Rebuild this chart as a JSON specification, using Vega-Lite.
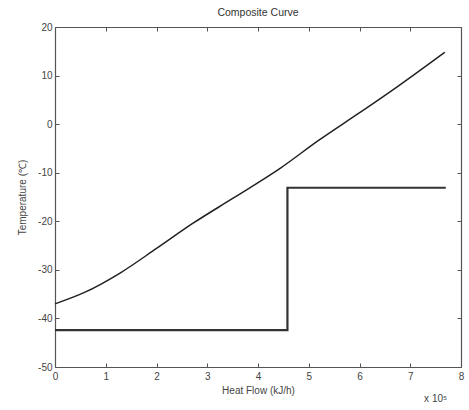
{
  "$schema": "https://vega.github.io/schema/vega-lite/v6.json",
  "width": 406,
  "height": 340,
  "autosize": {"type": "none"},
  "padding": {"left": 55, "top": 27, "right": 8, "bottom": 43},
  "background": "white",
  "title": {"text": "Composite Curve", "fontSize": 10.5, "font": "Liberation Sans", "fontWeight": "normal", "color": "#333", "offset": 4},
  "config": {
    "view": {"stroke": null},
    "axis": {
      "grid": false,
      "domainColor": "#555",
      "domainWidth": 1.2,
      "tickColor": "#555",
      "tickSize": -4,
      "labelFont": "Liberation Sans",
      "labelFontSize": 10,
      "labelColor": "#444",
      "labelFlush": false,
      "titleFont": "Liberation Sans",
      "titleFontSize": 10,
      "titleFontWeight": "normal",
      "titleColor": "#444"
    }
  },
  "data": {
    "values": [
      {"s": "hot", "i": 0, "q": 0.0, "t": -37.0},
      {"s": "hot", "i": 1, "q": 0.57, "t": -34.7},
      {"s": "hot", "i": 2, "q": 1.29, "t": -30.6},
      {"s": "hot", "i": 3, "q": 2.0, "t": -25.6},
      {"s": "hot", "i": 4, "q": 2.72, "t": -20.4},
      {"s": "hot", "i": 5, "q": 3.5, "t": -15.3},
      {"s": "hot", "i": 6, "q": 4.45, "t": -9.0},
      {"s": "hot", "i": 7, "q": 5.2, "t": -3.3},
      {"s": "hot", "i": 8, "q": 5.98, "t": 2.2},
      {"s": "hot", "i": 9, "q": 6.77, "t": 7.9},
      {"s": "hot", "i": 10, "q": 7.68, "t": 14.8},
      {"s": "cold", "i": 0, "q": 0.0, "t": -42.4},
      {"s": "cold", "i": 1, "q": 4.58, "t": -42.4},
      {"s": "cold", "i": 2, "q": 4.58, "t": -13.1},
      {"s": "cold", "i": 3, "q": 7.7, "t": -13.1}
    ]
  },
  "layer": [
    {
      "transform": [{"filter": "datum.s == 'hot'"}],
      "mark": {"type": "line", "color": "#222", "strokeWidth": 1.5, "interpolate": "monotone"},
      "encoding": {
        "x": {"field": "q", "type": "quantitative", "scale": {"domain": [0, 8], "nice": false},
              "axis": {"orient": "bottom", "title": "Heat Flow (kJ/h)", "tickCount": 8, "labelPadding": 8, "titlePadding": 4}},
        "y": {"field": "t", "type": "quantitative", "scale": {"domain": [-50, 20], "nice": false, "zero": false},
              "axis": {"orient": "left", "title": "Temperature (℃)", "tickCount": 7, "labelPadding": 7, "titlePadding": 10,
                       "labelExpr": "datum.value < 0 ? '-' + abs(datum.value) : '' + datum.value"}},
        "order": {"field": "i"}
      }
    },
    {
      "transform": [{"filter": "datum.s == 'cold'"}],
      "mark": {"type": "line", "color": "#333", "strokeWidth": 2.2},
      "encoding": {
        "x": {"field": "q", "type": "quantitative", "scale": {"domain": [0, 8], "nice": false},
              "axis": {"orient": "top", "title": null, "labels": false, "tickCount": 8}},
        "y": {"field": "t", "type": "quantitative", "scale": {"domain": [-50, 20], "nice": false, "zero": false},
              "axis": {"orient": "right", "title": null, "labels": false, "tickCount": 7}},
        "order": {"field": "i"}
      }
    },
    {
      "data": {"values": [{"label": "x 10⁵", "q": 7.5, "t": -50}]},
      "mark": {"type": "text", "font": "Liberation Sans", "fontSize": 10, "color": "#444", "dy": 32, "align": "center"},
      "encoding": {
        "x": {"field": "q", "type": "quantitative", "axis": null},
        "y": {"field": "t", "type": "quantitative", "axis": null},
        "text": {"field": "label"}
      }
    }
  ],
  "resolve": {"axis": {"x": "independent", "y": "independent"}}
}
